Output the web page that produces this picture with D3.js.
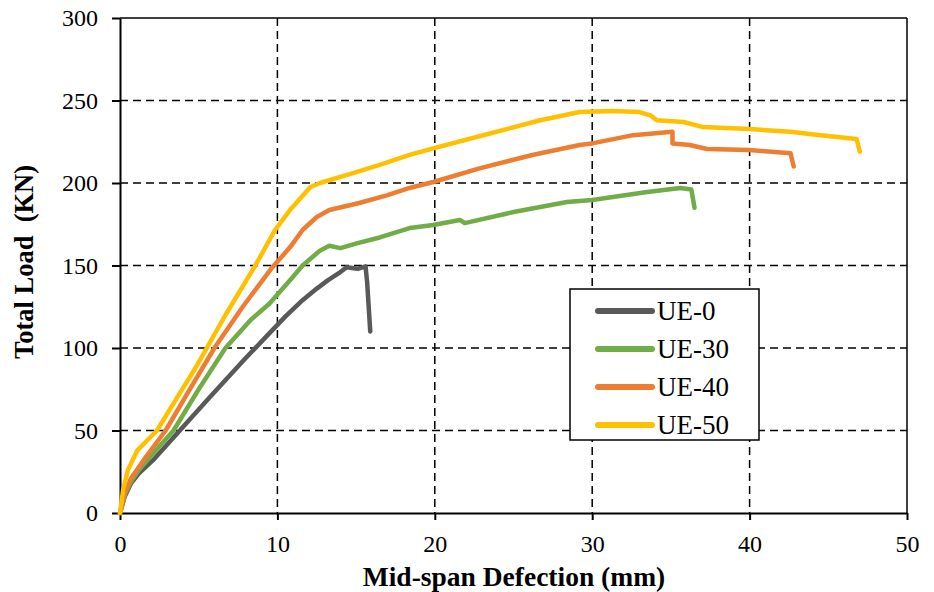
<!DOCTYPE html>
<html><head><meta charset="utf-8">
<script src="https://cdn.jsdelivr.net/npm/d3@7"></script>
<style>body{margin:0;background:#fff}svg{display:block}text{font-family:"Liberation Serif","Times New Roman",serif}</style>
</head><body>
<svg id="c" width="934" height="592"></svg>
<script>
const seriesNames = ["UE-0","UE-30","UE-40","UE-50"];
const seriesColors = ["#595959","#70AD47","#ED7D31","#FFC000"];
const xTicks = [0,10,20,30,40,50];
const yTicks = [0,50,100,150,200,250,300];

const ue0 = [[0,0],[0.3,10],[0.7,18],[1.2,24],[2.1,32],[3.8,50],[5.5,68],[7.9,93],[9.5,109],[10.5,119],[11.6,129],[12.5,136],[13.2,141],[14,146],[14.4,149],[15.1,148],[15.6,149.5],[15.7,140],[15.9,110]];
const ue30 = [[0,0],[0.3,11],[0.7,19],[1.2,26],[2.0,35],[3.4,50],[5.0,75],[6.7,100],[8.3,117],[9.5,127],[10.8,141],[11.6,150],[12.7,159],[13.3,162],[14,160.5],[15.1,163.6],[16.5,167],[18.4,172.7],[19.9,174.5],[21.6,177.6],[21.9,175.7],[25,182.4],[28.4,188.5],[30,189.7],[33.5,194.5],[35.6,197],[36.3,196],[36.5,185]];
const ue40 = [[0,0],[0.3,12],[0.7,21],[1.5,32],[2.9,50],[4.5,76],[6.0,100],[7.8,125],[9.6,148],[10.8,161],[11.6,171.5],[12.5,179.4],[13.3,183.6],[15.2,187.9],[17,192.7],[18.4,197],[19.9,200.6],[22.9,209],[26.2,217],[29.2,223],[30,224],[32.6,229],[35.1,231],[35.1,224],[36.2,223],[37.3,220.6],[40,220],[42.6,218],[42.8,210]];
const ue50 = [[0,0],[0.2,14],[0.5,26],[1.1,38],[2.35,50],[3.5,68],[4.8,88],[6.7,120],[8.6,150],[9.85,171.5],[10.8,183.6],[12.1,197.6],[12.7,200],[14.8,206],[16.5,211],[18.4,217],[19.9,221],[23.5,230],[26.7,238],[29.2,243],[31.3,243.6],[33.0,243],[33.7,241],[34.1,238],[35.8,237],[37,234],[40,232.7],[42.6,231],[44.5,229],[46.8,226.7],[47,219]];
const seriesData = [ue0, ue30, ue40, ue50];

const svg = d3.select("#c");
const L = 120, R = 907, T = 18, B = 513;
const x = d3.scaleLinear().domain([0,50]).range([L,R]);
const y = d3.scaleLinear().domain([0,300]).range([B,T]);
const serif = "Liberation Serif, Times New Roman, serif";

// gridlines
const g = svg.append("g");
g.selectAll(".gx").data(xTicks.filter(d=>d>0&&d<50)).enter().append("line")
  .attr("x1",d=>x(d)).attr("x2",d=>x(d)).attr("y1",T).attr("y2",B)
  .attr("stroke","#000").attr("stroke-width",1.5).attr("stroke-dasharray","8,5");
g.selectAll(".gy").data(yTicks.filter(d=>d>0&&d<300)).enter().append("line")
  .attr("x1",L).attr("x2",R).attr("y1",d=>y(d)).attr("y2",d=>y(d))
  .attr("stroke","#000").attr("stroke-width",1.5).attr("stroke-dasharray","8,5");

// frame top/right
svg.append("line").attr("x1",L).attr("x2",R).attr("y1",T).attr("y2",T).attr("stroke","#000").attr("stroke-width",1.5);
svg.append("line").attr("x1",R).attr("x2",R).attr("y1",T).attr("y2",B).attr("stroke","#000").attr("stroke-width",1.5);

// axes
const xAxis = svg.append("g").attr("transform",`translate(0,${B})`)
  .call(d3.axisBottom(x).tickValues(xTicks).tickSize(7).tickPadding(15).tickSizeOuter(0));
const yAxis = svg.append("g").attr("transform",`translate(${L},0)`)
  .call(d3.axisLeft(y).tickValues(yTicks).tickSize(8).tickPadding(14).tickSizeOuter(0));
[xAxis,yAxis].forEach(a=>{
  a.attr("font-family",serif).attr("font-size",24);
  a.select(".domain").attr("stroke","#000").attr("stroke-width",2);
  a.selectAll(".tick line").attr("stroke","#000").attr("stroke-width",2);
  a.selectAll("text").style("font-family",serif).style("font-size","24px").attr("fill","#000");
});
yAxis.selectAll("text").attr("dy","0.33em");

// lines
const line = d3.line().x(d=>x(d[0])).y(d=>y(d[1]));
svg.append("g").selectAll("path").data(seriesData).enter().append("path")
  .attr("d",line).attr("fill","none")
  .attr("stroke",(d,i)=>seriesColors[i]).attr("stroke-width",4.5)
  .attr("stroke-linejoin","round").attr("stroke-linecap","round");

// axis titles
svg.append("text").attr("x",514).attr("y",586).attr("text-anchor","middle")
  .style("font-family",serif).style("font-weight","bold").style("font-size","27.5px").text("Mid-span Defection (mm)");
svg.append("text").attr("transform",`translate(33,${262}) rotate(-90)`).attr("text-anchor","middle")
  .style("font-family",serif).style("font-weight","bold").style("font-size","26.5px").style("white-space","pre").text("Total Load  (KN)");

// legend
const lg = svg.append("g");
lg.append("rect").attr("x",570).attr("y",289).attr("width",189).attr("height",151)
  .attr("fill","#fff").attr("stroke","#000").attr("stroke-width",1.5);
seriesNames.forEach((n,i)=>{
  const yy = 311 + i*38;
  lg.append("line").attr("x1",598).attr("x2",652).attr("y1",yy).attr("y2",yy)
    .attr("stroke",seriesColors[i]).attr("stroke-width",6).attr("stroke-linecap","round");
  lg.append("text").attr("x",657).attr("y",yy).attr("dy","0.34em")
    .style("font-family",serif).style("font-size","27px").attr("fill","#000").text(n);
});
</script>
</body></html>
